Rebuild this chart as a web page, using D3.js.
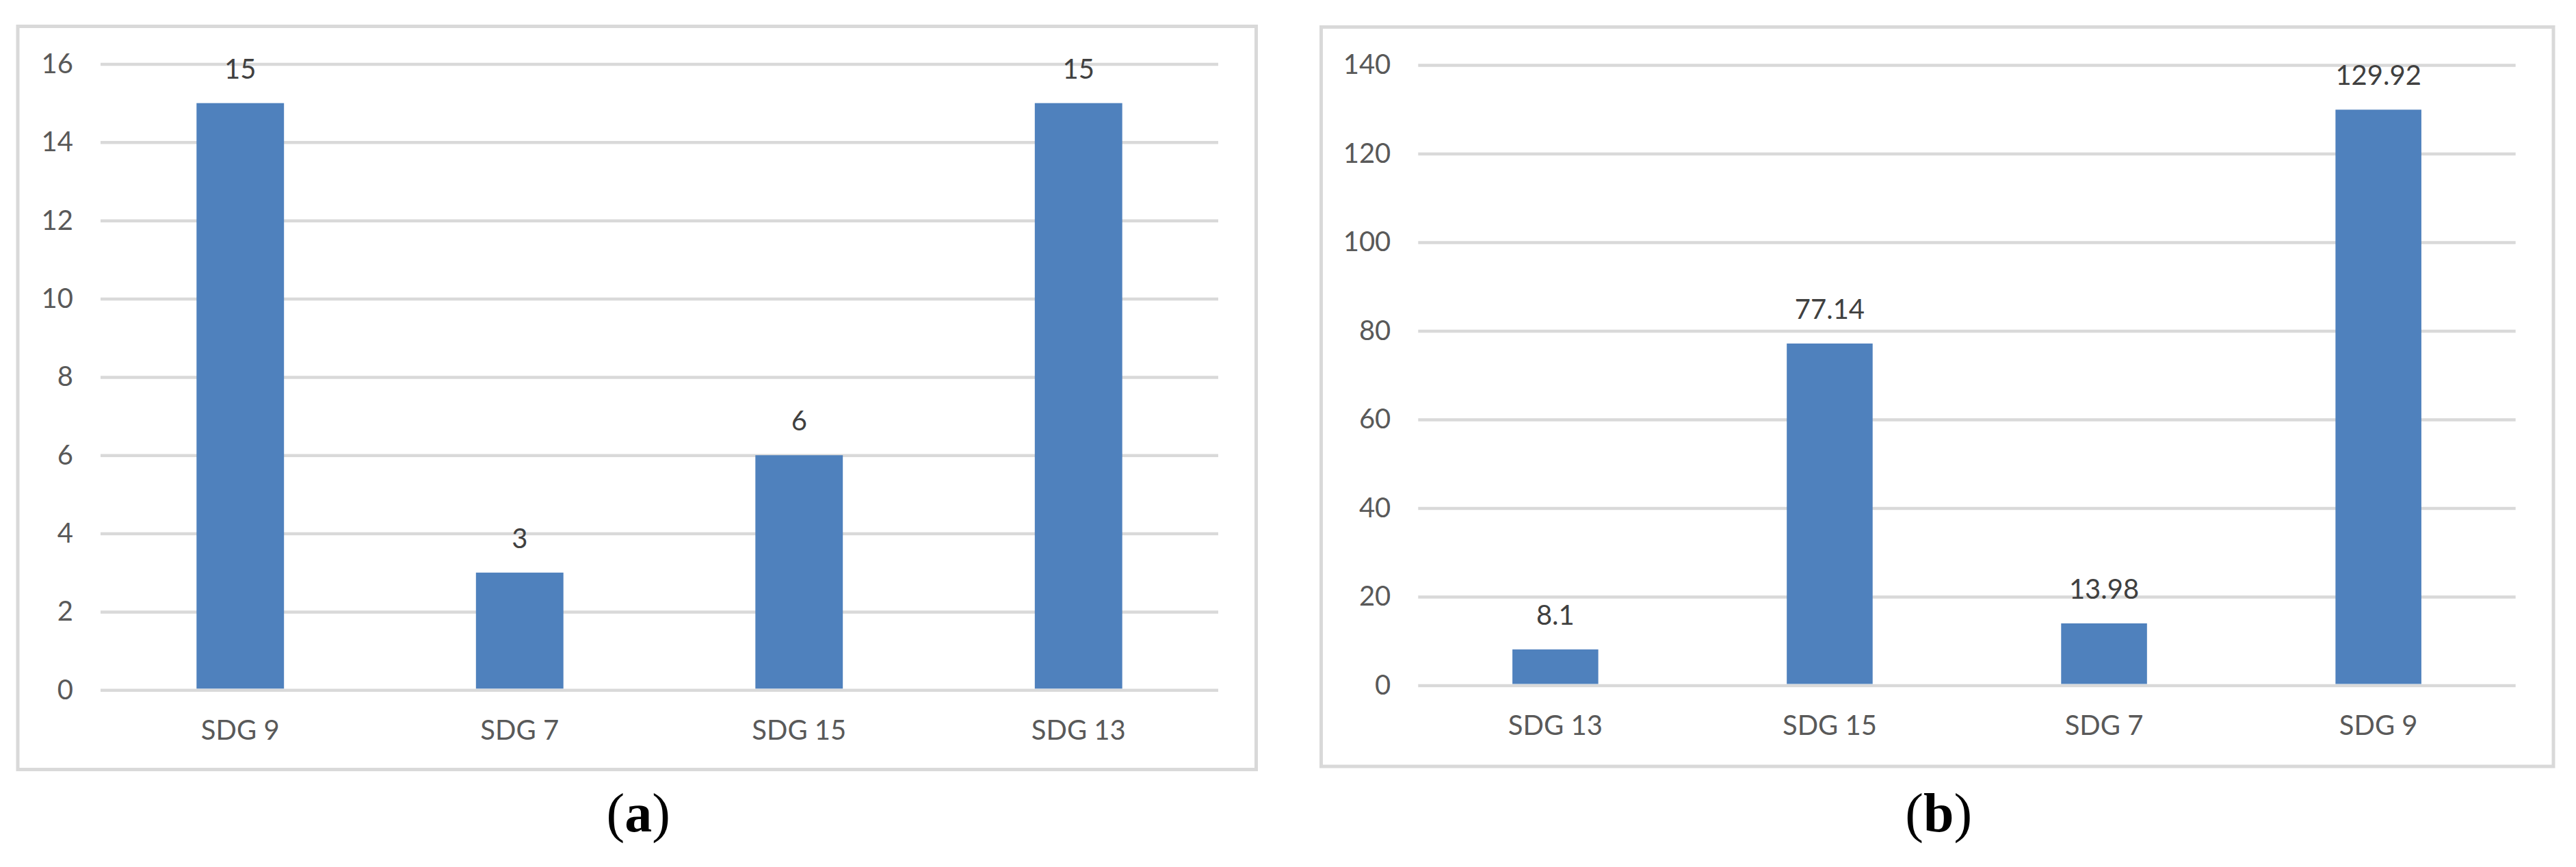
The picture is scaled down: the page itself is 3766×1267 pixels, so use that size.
<!DOCTYPE html>
<html>
<head>
<meta charset="utf-8">
<script src="https://cdn.jsdelivr.net/npm/d3@7"></script>
<style>
  html, body { margin: 0; padding: 0; background: #fff; }
  svg { display: block; }
</style>
</head>
<body>
<svg id="chart" width="3766" height="1267"></svg>
<script>
// ---- Data ----
const categoriesA = ["SDG 9", "SDG 7", "SDG 15", "SDG 13"];
const valuesA = [15, 3, 6, 15];
const ticksA = [0, 2, 4, 6, 8, 10, 12, 14, 16];
const labelsA = ["15", "3", "6", "15"];

const categoriesB = ["SDG 13", "SDG 15", "SDG 7", "SDG 9"];
const valuesB = [8.1, 77.14, 13.98, 129.92];
const ticksB = [0, 20, 40, 60, 80, 100, 120, 140];
const labelsB = ["8.1", "77.14", "13.98", "129.92"];

const captionLetters = ["a", "b"];

// ---- Layout ----
const svg = d3.select("#chart");
const FONT = "Lato, 'Open Sans', sans-serif";
const GRID = "#d9d9d9";
const BAR = "#4f81bd";

const panels = [
  { cats: categoriesA, vals: valuesA, ticks: ticksA, labels: labelsA, caption: captionLetters[0],
    frame: { x: 26, y: 38.5, w: 1810.5, h: 1086 },
    x0: 147, x1: 1781, zero: 1008.3, top: 93.5 },
  { cats: categoriesB, vals: valuesB, ticks: ticksB, labels: labelsB, caption: captionLetters[1],
    frame: { x: 1931.5, y: 39.5, w: 1801.5, h: 1080.5 },
    x0: 2073.3, x1: 3677.7, zero: 1001.5, top: 95 }
];

panels.forEach(p => {
  const g = svg.append("g");

  // frame
  g.append("rect")
    .attr("x", p.frame.x).attr("y", p.frame.y)
    .attr("width", p.frame.w).attr("height", p.frame.h)
    .attr("fill", "#fff").attr("stroke", GRID).attr("stroke-width", 5);

  const W = p.x1 - p.x0;
  const y = d3.scaleLinear()
    .domain([0, d3.max(p.ticks)])
    .range([p.zero, p.top]);
  const pad = 0.687;
  const x = d3.scaleBand()
    .domain(p.cats)
    .range([p.x0, p.x1])
    .paddingInner(pad)
    .paddingOuter(pad / 2);

  // y axis + gridlines
  const yAxis = g.append("g")
    .attr("transform", `translate(${p.x0},0)`)
    .call(d3.axisLeft(y).tickValues(p.ticks).tickSize(-W).tickPadding(40).tickFormat(d3.format("d")));
  yAxis.select(".domain").remove();
  yAxis.selectAll(".tick line").attr("stroke", GRID).attr("stroke-width", 4.5);
  yAxis.selectAll(".tick text")
    .attr("fill", "#595959").style("font-family", FONT).style("font-size", "40px");

  // bars
  g.selectAll("rect.bar")
    .data(p.vals)
    .join("rect")
    .attr("class", "bar")
    .attr("x", (d, i) => x(p.cats[i]))
    .attr("width", x.bandwidth())
    .attr("y", d => y(d))
    .attr("height", d => y(0) - y(d) - 2)
    .attr("fill", BAR);

  // value labels
  g.selectAll("text.val")
    .data(p.vals)
    .join("text")
    .attr("class", "val")
    .attr("x", (d, i) => x(p.cats[i]) + x.bandwidth() / 2)
    .attr("y", d => y(d) - 36)
    .attr("text-anchor", "middle")
    .attr("fill", "#404040")
    .style("font-family", FONT).style("font-size", "40px")
    .text((d, i) => p.labels[i]);

  // x axis
  const xAxis = g.append("g")
    .attr("transform", `translate(0,${p.zero})`)
    .call(d3.axisBottom(x).tickSize(0).tickPadding(44));
  xAxis.select(".domain").remove();
  xAxis.selectAll(".tick text")
    .attr("fill", "#595959").style("font-family", FONT).style("font-size", "40px");

  // caption: regular parentheses, bold letter
  const cap = g.append("text")
    .attr("x", p.frame.x + p.frame.w / 2 + 2)
    .attr("y", 1215)
    .attr("text-anchor", "middle")
    .attr("fill", "#000")
    .style("font-family", "'Liberation Serif', 'Times New Roman', serif")
    .style("font-size", "80px");
  cap.append("tspan").text("(");
  cap.append("tspan").style("font-weight", "bold").text(p.caption);
  cap.append("tspan").text(")");
});
</script>
</body>
</html>
